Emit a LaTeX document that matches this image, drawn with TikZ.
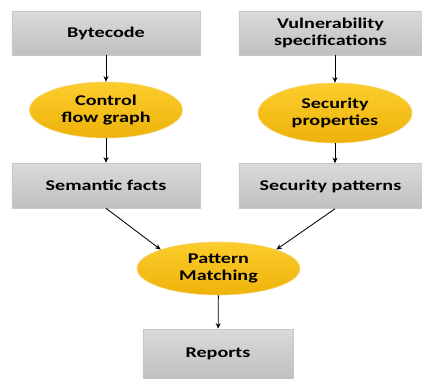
\documentclass[tikz,border=0pt]{standalone}
\usepackage{fontspec}
\setmainfont{Carlito}[FakeStretch=1.35]
\usetikzlibrary{shapes.geometric,arrows.meta}
\definecolor{boxtop}{RGB}{218,218,218}
\definecolor{boxbot}{RGB}{192,192,192}
\definecolor{boxline}{RGB}{200,200,200}
\definecolor{goldtop}{RGB}{252,205,45}
\definecolor{goldbot}{RGB}{238,178,10}
\definecolor{goldline}{RGB}{245,215,120}

\begin{document}
\begin{tikzpicture}[x=0.025cm,y=-0.025cm,
  stage/.style={rectangle,draw=boxline,top color=boxtop,bottom color=boxbot,
    font=\fontsize{10.6}{12}\selectfont\bfseries,align=center,inner sep=0pt},
  task/.style={ellipse,draw=goldline,top color=goldtop,bottom color=goldbot,
    font=\fontsize{10.6}{12}\selectfont\bfseries,align=center,inner sep=0pt},
  flow/.style={-{Stealth[length=4pt,width=3.5pt]},line width=0.6pt}]
\useasboundingbox (0,0) rectangle (422,378);

\node[stage,minimum width=4.7cm,minimum height=1.1cm] (bytecode) at (106,33) {Bytecode};
\node[stage,minimum width=4.575cm,minimum height=1.1cm] (vulnspec) at (330.5,33) {Vulnerability\\specifications};

\node[task,minimum width=3.825cm,minimum height=1.4cm] (cfg) at (106,110) {Control\\flow graph};
\node[task,minimum width=3.85cm,minimum height=1.5cm] (secprop) at (335,113) {Security\\properties};

\node[stage,minimum width=4.7cm,minimum height=1.125cm] (facts) at (106,185.5) {Semantic facts};
\node[stage,minimum width=4.575cm,minimum height=1.125cm] (patterns) at (330.5,186) {Security patterns};

\node[task,minimum width=4.075cm,minimum height=1.325cm] (matching) at (218.5,268.5) {Pattern\\Matching};

\node[stage,minimum width=3.75cm,minimum height=1.25cm] (reports) at (218,354) {Reports};

\draw[flow] (bytecode) -- (cfg);
\draw[flow] (cfg) -- (facts);
\draw[flow] (vulnspec.south -| secprop) -- (secprop);
\draw[flow] (secprop) -- (patterns.north -| secprop);
\draw[flow] (facts.south) -- (matching.north west);
\draw[flow] (patterns.south -| secprop) -- (matching.north east);
\draw[flow] (matching) -- (reports);
\end{tikzpicture}
\end{document}
